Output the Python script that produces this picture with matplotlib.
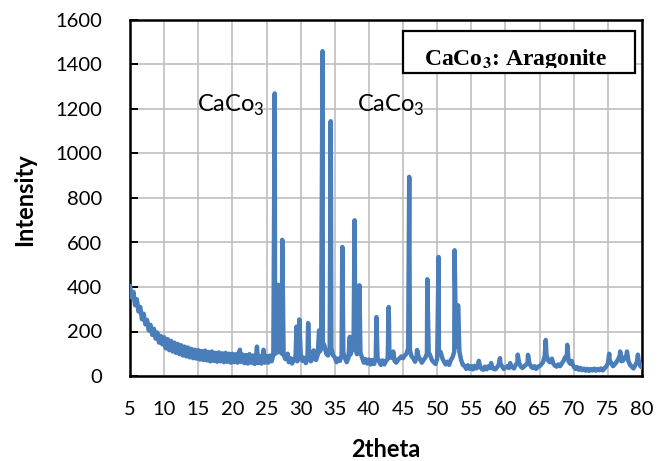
import numpy as np
import matplotlib
matplotlib.use("Agg")
import matplotlib.pyplot as plt
from matplotlib.patches import Rectangle
from matplotlib.transforms import Bbox, TransformedBbox

plt.rcParams["font.family"] = ["Lato", "DejaVu Sans"]
plt.rcParams["mathtext.fontset"] = "custom"
plt.rcParams["mathtext.rm"] = "Lato"

# step scan 5-80 deg, 0.25 deg per step
scan_start = 5.0
scan_step = 0.25
background = [
    405, 352, 378, 318, 345, 290, 310, 255, 280, 232, 252, 205, 230, 185, 212, 168, 195, 150, 180, 142,
    174, 124, 166, 116, 158, 110, 150, 104, 144, 98, 138, 92, 132, 88, 128, 84, 122, 80, 118, 78,
    116, 74, 112, 72, 114, 70, 108, 66, 110, 68, 104, 64, 106, 66, 102, 62, 104, 64, 100, 60,
    100, 62, 98, 60, 106, 64, 96, 58, 94, 56, 98, 60, 92, 54, 96, 58, 90, 56, 94, 60,
    90, 60, 92, 66, 95, 100, 105, 115, 108, 100, 96, 76, 90, 62, 80, 56, 76, 86, 66, 92,
    100, 68, 82, 58, 84, 88, 66, 82, 86, 72, 96, 108, 120, 150, 135, 100, 92, 112, 125, 92,
    84, 62, 78, 68, 92, 105, 80, 62, 82, 95, 115, 135, 125, 98, 115, 105, 82, 60, 76, 56,
    74, 52, 72, 54, 80, 84, 64, 50, 70, 52, 68, 76, 88, 82, 90, 68, 60, 72, 80, 88,
    80, 92, 100, 125, 115, 88, 80, 64, 84, 90, 74, 60, 72, 82, 100, 108, 90, 70, 62, 54,
    78, 100, 108, 80, 64, 52, 64, 50, 72, 84, 110, 130, 140, 110, 72, 50, 46, 32, 48, 32,
    44, 30, 46, 34, 50, 46, 32, 28, 42, 30, 44, 36, 46, 32, 30, 38, 50, 56, 44, 32,
    38, 44, 36, 48, 40, 34, 50, 62, 58, 42, 36, 44, 50, 62, 58, 42, 36, 44, 32, 42,
    44, 52, 62, 90, 95, 70, 62, 70, 56, 46, 42, 52, 44, 56, 68, 85, 90, 65, 55, 58,
    42, 32, 40, 28, 36, 26, 33, 24, 32, 23, 31, 25, 33, 24, 31, 26, 34, 25, 34, 42,
    56, 72, 58, 44, 52, 62, 75, 92, 66, 70, 85, 95, 68, 50, 42, 34, 48, 62, 70, 45,
    38,
]

# reflections (2theta, counts)
peak_2theta = [
    21.1, 23.6, 24.55, 26.2, 26.7, 27.3, 28.1, 29.4, 29.8, 31.1, 31.9, 32.7, 33.2, 34.4,
    36.1, 37.2, 37.9, 38.6, 41.1, 42.9, 43.55, 45.9, 47.05, 48.55, 50.2, 52.55, 53.05,
    56.1, 57.9, 59.2, 60.7, 61.8, 63.3, 65.9, 66.8, 69.05, 69.7, 75.2, 76.8, 77.8, 79.4,
]
peak_counts = [
    118, 132, 118, 1270, 410, 612, 100, 222, 254, 238, 115, 205, 1460, 1145,
    580, 176, 700, 408, 265, 310, 110, 895, 117, 435, 535, 565, 318,
    68, 58, 80, 58, 96, 95, 162, 78, 140, 68, 100, 110, 110, 96,
]

x_ticks = list(range(5, 81, 5))
y_ticks = list(range(0, 1601, 200))

scan_x = scan_start + scan_step * np.arange(len(background))
two_theta = np.concatenate([scan_x, peak_2theta])
intensity = np.concatenate([background, peak_counts])
order = np.argsort(two_theta, kind="stable")

fig = plt.figure(figsize=(6.69, 4.61), dpi=100)
ax = fig.add_axes([130 / 669, 85 / 461, 512 / 669, 356 / 461])

ax.plot(two_theta[order], intensity[order], color="#4a7ebb", lw=3.2,
        solid_joinstyle="round", solid_capstyle="round", zorder=3)

ax.set_xlim(5, 80)
ax.set_ylim(0, 1600)
ax.set_xticks(x_ticks)
ax.set_yticks(y_ticks)
ax.grid(True, color="#bfbfbf", lw=1.2, zorder=0)
ax.set_axisbelow(True)
for side in ax.spines.values():
    side.set_linewidth(1.8)
    side.set_color("black")
ax.tick_params(axis="y", direction="in", length=6, width=1.4, pad=20, labelsize=14.5)
ax.tick_params(axis="x", length=0, pad=18, labelsize=14.5)

# phase labels
ax.text(14.8, 1187, r"CaCo$_\mathregular{3}$", fontsize=17, ha="left", va="baseline", zorder=4)
ax.text(38.25, 1187, r"CaCo$_\mathregular{3}$", fontsize=17, ha="left", va="baseline", zorder=4)

# title box, its text is cut off near the baseline
box = Rectangle((0.533, 0.851), 0.453, 0.118, transform=ax.transAxes,
                facecolor="white", edgecolor="black", lw=1.6, zorder=5)
ax.add_patch(box)
title = ax.text(0.754, 0.874, r"CaCo$_\mathbf{3}$: Aragonite", transform=ax.transAxes,
                fontsize=17, ha="center", va="baseline", fontweight="bold",
                family=["Liberation Serif", "DejaVu Serif"], math_fontfamily="stix",
                zorder=6)
title.set_clip_on(True)
title.set_clip_box(TransformedBbox(Bbox([[0.533, 0.866], [0.986, 0.969]]), ax.transAxes))

fig.text(32 / 669, 1 - 199.5 / 461, "Intensity", rotation=90, rotation_mode="anchor",
         ha="center", va="baseline", fontsize=17, fontweight="bold")
fig.text(386 / 669, 1 - 457 / 461, "2theta", ha="center", va="baseline",
         fontsize=17, fontweight="bold")

fig.savefig("out.png", dpi=100)
